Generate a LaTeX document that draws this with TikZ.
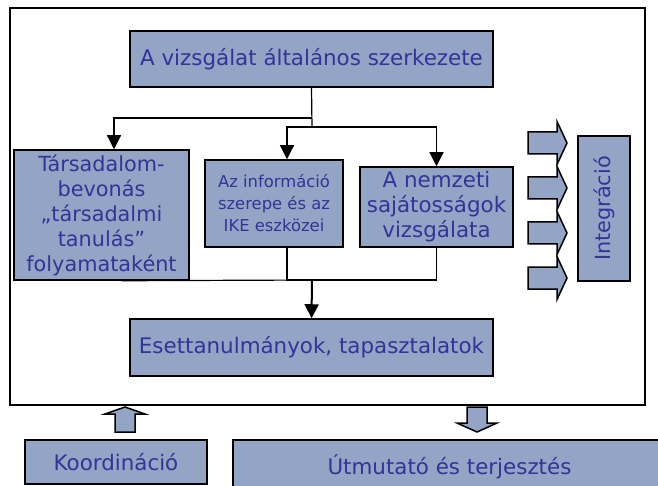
\documentclass[tikz,border=0pt]{standalone}
\usepackage{fontspec}
\setmainfont{DejaVu Sans}
\usetikzlibrary{arrows.meta}
\definecolor{boxfill}{RGB}{148,164,196}
\definecolor{textblue}{RGB}{51,51,153}
\begin{document}
\begin{tikzpicture}[x=1pt, y=-1pt,
    box/.style={draw, line width=1.5pt, fill=boxfill, text=textblue, align=center, inner sep=0pt},
    big/.style={font=\fontsize{21.4}{25}\selectfont},
    link/.style={line width=1.2pt},
    arr/.style={link, -{Triangle[width=14pt,length=14pt]}}]
    \useasboundingbox (0,0) rectangle (658,486);
    \draw[line width=1.5pt] (10,8) rectangle (645,405);
    % boxes
    \node[box, big, minimum width=363pt, minimum height=56pt] (top) at (311.5,59)
        {A vizsgálat általános szerkezete};
    \node[box, font=\fontsize{20.8}{25}\selectfont, minimum width=175pt, minimum height=130pt] (left) at (101.5,215)
        {Társadalom-\\bevonás\\„társadalmi\\tanulás”\\folyamataként};
    \node[box, font=\fontsize{16.4}{22}\selectfont, minimum width=138pt, minimum height=87pt] (mid) at (274,203.5)
        {Az információ\\szerepe és az\\IKE eszközei};
    \node[box, big, minimum width=153pt, minimum height=80pt] (right) at (436.5,207)
        {A nemzeti\\sajátosságok\\vizsgálata};
    \node[box, font=\fontsize{20.8}{25}\selectfont, minimum width=145pt, minimum height=52pt, rotate=90] (integ) at (604,208.5)
        {Integráció};
    \node[box, big, minimum width=363pt, minimum height=57pt] (bottom) at (311.5,347.5)
        {Esettanulmányok, tapasztalatok};
    \node[box, big, minimum width=182pt, minimum height=44pt] (koord) at (116,462)
        {Koordináció};
    \node[box, big, minimum width=433pt, minimum height=54pt] (utm) at (449.5,467)
        {Útmutató és terjesztés};
    % connectors
    \coordinate (split1) at (312,118);
    \coordinate (split2) at (312,127);
    \coordinate (join) at (312,280);
    \draw[link] (top.south) -- (split2);
    \draw[arr] (split1) -| ([xshift=12.5pt]left.north);
    \draw[arr] (split2) -| ([xshift=13pt]mid.north);
    \draw[arr] (split2) -| (right.north);
    \draw[link] ([xshift=20pt]left.south) -- (join);
    \draw[link] ([xshift=13pt]mid.south) |- (join);
    \draw[link] (right.south) |- (join);
    \draw[arr, line width=2pt] (join) -- (bottom.north);
    % block arrows
    \foreach \y in {143,188,233,278}
        \draw[line width=1.5pt, fill=boxfill] (528,\y-11) -- (557,\y-11) -- (557,\y-21.5)
            -- (567,\y) -- (557,\y+21.5) -- (557,\y+11) -- (528,\y+11) -- cycle;
    \draw[line width=1.5pt, fill=boxfill] (115,432) -- (115,414) -- (105,414) -- (125,407)
        -- (145,414) -- (135,414) -- (135,432) -- cycle;
    \draw[line width=1.5pt, fill=boxfill] (467,407) -- (487,407) -- (487,423) -- (497,423)
        -- (477,432) -- (457,423) -- (467,423) -- cycle;
\end{tikzpicture}
\end{document}
